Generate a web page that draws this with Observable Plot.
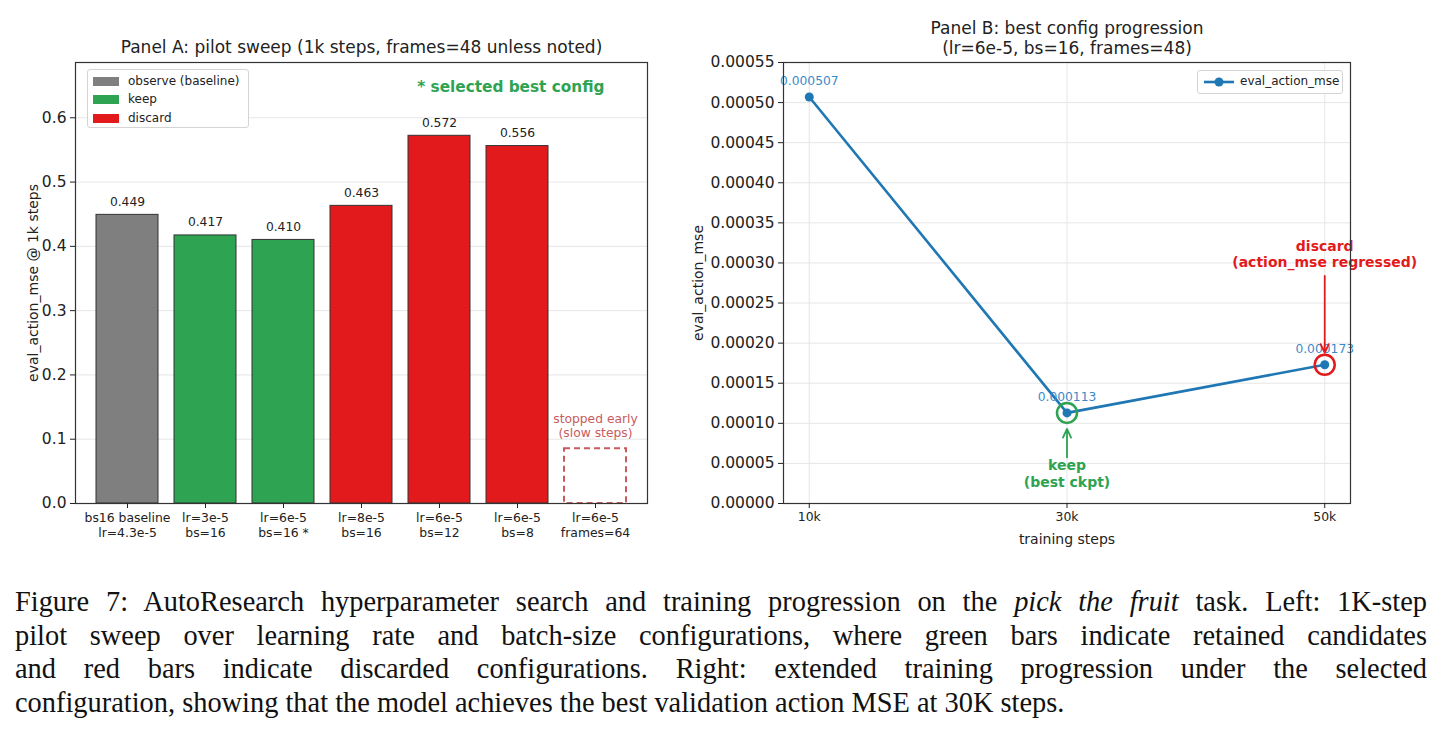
<!DOCTYPE html>
<html>
<head>
<meta charset="utf-8">
<script src="https://cdn.jsdelivr.net/npm/d3@7"></script>
<script src="https://cdn.jsdelivr.net/npm/@observablehq/plot@0.6"></script>
<style>
  html, body { margin: 0; padding: 0; background: #fff; }
  body { width: 1442px; height: 741px; overflow: hidden; position: relative; font-family: "DejaVu Sans", sans-serif; color: #222; }
  #panelA { position: absolute; left: 0; top: 0; }
  #panelB { position: absolute; left: 690px; top: 0; }
  .legend { position: absolute; background: rgba(255,255,255,0.9); border: 1px solid #d4d4d4; border-radius: 3px; font-size: 12px; color: #222; box-sizing: border-box; }
  .legend .row { position: absolute; left: 0; height: 16px; line-height: 16px; white-space: nowrap; }
  .legend .swatch { position: absolute; width: 26px; height: 9px; top: 4px; }
  .legend .lab { position: absolute; }
  #caption { position: absolute; left: 15px; top: 585px; width: 1412px; font-family: "Liberation Serif", serif; font-size: 28.4px; line-height: 33.5px; color: #111; }
  #caption div { text-align: justify; text-align-last: justify; white-space: nowrap; }
  #caption div:last-child { text-align-last: left; }
</style>
</head>
<body>
<div id="panelA"></div>
<div id="panelB"></div>
<div id="legendA" class="legend"></div>
<div id="legendB" class="legend"></div>
<div id="caption">
  <div>Figure 7: AutoResearch hyperparameter search and training progression on the <i>pick the fruit</i> task. Left: 1K-step</div>
  <div>pilot sweep over learning rate and batch-size configurations, where green bars indicate retained candidates</div>
  <div>and red bars indicate discarded configurations. Right: extended training progression under the selected</div>
  <div>configuration, showing that the model achieves the best validation action MSE at 30K steps.</div>
</div>
<script>
// ---- Panel A: 1k-step pilot sweep ----
const configs = [
  "bs16 baseline\nlr=4.3e-5",
  "lr=3e-5\nbs=16",
  "lr=6e-5\nbs=16 *",
  "lr=8e-5\nbs=16",
  "lr=6e-5\nbs=12",
  "lr=6e-5\nbs=8",
  "lr=6e-5\nframes=64"
];
const pilotMse = [0.449, 0.417, 0.410, 0.463, 0.572, 0.556, null];
const decisions = ["observe (baseline)", "keep", "keep", "discard", "discard", "discard", "stopped"];
const stoppedPlaceholder = 0.085; // outline height for the run that was stopped early
const pilotTicks = [0, 0.1, 0.2, 0.3, 0.4, 0.5, 0.6];
const legendKinds = ["observe (baseline)", "keep", "discard"];

// ---- Panel B: best config progression ----
const steps = [10000, 30000, 50000];
const evalMse = [0.000507, 0.000113, 0.000173];
const stepTicks = [10000, 30000, 50000];
const mseTicks = [0, 0.00005, 0.0001, 0.00015, 0.0002, 0.00025, 0.0003, 0.00035, 0.0004, 0.00045, 0.0005, 0.00055];

const GREEN = "#2ea352";
const RED = "#e31a1c";
const GRAY = "#7f7f7f";
const BLUE = "#1f77b4";
const MUTED_RED = "#c95b5e";
const colorOf = {"observe (baseline)": GRAY, keep: GREEN, discard: RED};
const FONT = "DejaVu Sans";

const rows = configs.map((c, i) => ({config: c, mse: pilotMse[i], decision: decisions[i]}));
const bars = rows.filter(d => d.mse != null);
const stopped = rows.filter(d => d.decision === "stopped").map(d => ({...d, h: stoppedPlaceholder}));

const panelA = Plot.plot({
  width: 690, height: 560,
  marginLeft: 75, marginRight: 43, marginTop: 62, marginBottom: 57,
  style: {fontFamily: FONT, background: "transparent", color: "#222", overflow: "visible"},
  x: {domain: configs, paddingInner: 0.2, paddingOuter: 0.257, label: null},
  y: {domain: [0, 0.686], label: null},
  marks: [
    Plot.gridY(pilotTicks, {stroke: "#e6e6e6", strokeOpacity: 1}),
    Plot.barY(bars, {x: "config", y: "mse", fill: d => colorOf[d.decision], stroke: "#333", strokeWidth: 1}),
    Plot.barY(stopped, {x: "config", y: "h", fill: "none", stroke: MUTED_RED, strokeWidth: 2, strokeDasharray: "6,4"}),
    Plot.text(bars, {x: "config", y: "mse", text: d => d.mse.toFixed(3), dy: -13, fontSize: 12.3, fill: "#222"}),
    Plot.text(stopped, {x: "config", y: "h", text: () => "stopped early\n(slow steps)", lineAnchor: "bottom", dy: -12, fontSize: 12.3, lineHeight: 1.15, fill: MUTED_RED}),
    Plot.text(["* selected best config"], {frameAnchor: "top-right", text: d => d, textAnchor: "end", lineAnchor: "middle", dx: -43, dy: 25, fontSize: 15.3, fontWeight: "bold", fill: GREEN}),
    Plot.frame({stroke: "#333", strokeWidth: 1.2}),
    Plot.axisY(pilotTicks, {tickFormat: d3.format(".1f"), tickSize: 5, tickPadding: 4, fontSize: 15.5, label: null}),
    Plot.axisX({tickSize: 5, tickPadding: 3, fontSize: 12.4, lineHeight: 1.21, label: null}),
    Plot.text(["eval_action_mse @ 1k steps"], {frameAnchor: "left", text: d => d, rotate: -90, textAnchor: "middle", lineAnchor: "middle", dx: -42, fontSize: 14}),
    Plot.text(["Panel A: pilot sweep (1k steps, frames=48 unless noted)"], {frameAnchor: "top", text: d => d, lineAnchor: "middle", dy: -15, fontSize: 17})
  ]
});
document.getElementById("panelA").appendChild(panelA);

const progress = steps.map((s, i) => ({step: s, mse: evalMse[i]}));
const best = progress[1];
const last = progress[2];

const panelB = Plot.plot({
  width: 700, height: 560,
  marginLeft: 93, marginRight: 40, marginTop: 62, marginBottom: 57,
  style: {fontFamily: FONT, background: "transparent", color: "#222", overflow: "visible"},
  x: {domain: [8000, 52000], label: null},
  y: {domain: [0, 0.00055], label: null},
  marks: [
    Plot.gridY(mseTicks, {stroke: "#e6e6e6", strokeOpacity: 1}),
    Plot.gridX(stepTicks, {stroke: "#e6e6e6", strokeOpacity: 1}),
    Plot.line(progress, {x: "step", y: "mse", stroke: BLUE, strokeWidth: 2.6}),
    Plot.dot(progress, {x: "step", y: "mse", r: 4.5, fill: BLUE}),
    Plot.text(progress, {x: "step", y: "mse", text: d => d.mse.toFixed(6), dy: -16, fontSize: 12.3, fill: "#3a89c9"}),
    Plot.dot([best], {x: "step", y: "mse", r: 10, fill: "none", stroke: GREEN, strokeWidth: 2.5}),
    Plot.dot([last], {x: "step", y: "mse", r: 10, fill: "none", stroke: RED, strokeWidth: 2.5}),
    Plot.arrow([best], {x1: "step", x2: "step", y1: 0.0000575, y2: "mse", insetEnd: 16, stroke: GREEN, strokeWidth: 1.8, headLength: 8, headAngle: 50}),
    Plot.text([best], {x: "step", y: 0.0000555, text: () => "keep\n(best ckpt)", lineAnchor: "top", lineHeight: 1.15, fontSize: 14, fontWeight: "bold", fill: GREEN}),
    Plot.arrow([last], {x1: "step", x2: "step", y1: 0.000284, y2: "mse", insetEnd: 12, stroke: RED, strokeWidth: 1.8, headLength: 8, headAngle: 50}),
    Plot.text([last], {x: "step", y: 0.000295, text: () => "discard\n(action_mse regressed)", lineAnchor: "bottom", lineHeight: 1.15, fontSize: 14, fontWeight: "bold", fill: RED}),
    Plot.frame({stroke: "#333", strokeWidth: 1.2}),
    Plot.axisY(mseTicks, {tickFormat: d3.format(".5f"), tickSize: 5, tickPadding: 4, fontSize: 15.5, label: null}),
    Plot.axisX(stepTicks, {tickFormat: d => `${d / 1000}k`, tickSize: 5, tickPadding: 4, fontSize: 12.4, label: null}),
    Plot.text(["eval_action_mse"], {frameAnchor: "left", text: d => d, rotate: -90, textAnchor: "middle", lineAnchor: "middle", dx: -85, fontSize: 14}),
    Plot.text(["training steps"], {frameAnchor: "bottom", text: d => d, lineAnchor: "middle", dy: 36, fontSize: 14}),
    Plot.text(["Panel B: best config progression\n(lr=6e-5, bs=16, frames=48)"], {frameAnchor: "top", text: d => d, lineAnchor: "middle", dy: -24.5, lineHeight: 1.15, fontSize: 17})
  ]
});
document.getElementById("panelB").appendChild(panelB);

// Legend for panel A: colour patches per decision
const legA = document.getElementById("legendA");
Object.assign(legA.style, {left: "87px", top: "69px", width: "162px", height: "59px"});
legendKinds.forEach((k, i) => {
  const row = document.createElement("div");
  row.className = "row";
  row.style.top = `${3 + i * 18.3}px`;
  row.innerHTML = `<span class="swatch" style="left:5px;background:${colorOf[k]}"></span><span class="lab" style="left:40px">${k}</span>`;
  legA.appendChild(row);
});

// Legend for panel B: line with marker
const legB = document.getElementById("legendB");
Object.assign(legB.style, {left: "1197px", top: "70px", width: "146px", height: "24px"});
legB.innerHTML = `<svg width="40" height="22" style="position:absolute;left:4px;top:0"><line x1="2" x2="32" y1="11" y2="11" stroke="${BLUE}" stroke-width="2.6"/><circle cx="17" cy="11" r="4.5" fill="${BLUE}"/></svg><span style="position:absolute;left:42px;top:3px">eval_action_mse</span>`;
</script>
</body>
</html>
